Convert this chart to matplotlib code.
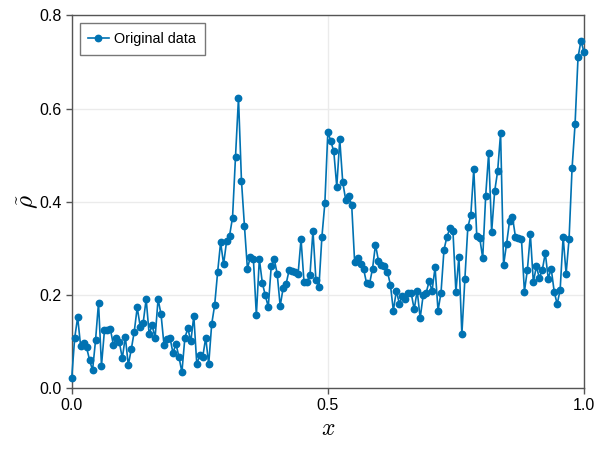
import numpy as np
import matplotlib
matplotlib.use("Agg")
import matplotlib.pyplot as plt

# values, evenly spaced on [0, 1]
rho = [
    0.021, 0.107, 0.152, 0.090, 0.096, 0.087, 0.060, 0.038, 0.102, 0.183,
    0.048, 0.124, 0.124, 0.126, 0.092, 0.107, 0.098, 0.064, 0.110, 0.049,
    0.083, 0.121, 0.173, 0.132, 0.140, 0.191, 0.116, 0.135, 0.108, 0.191,
    0.158, 0.092, 0.106, 0.108, 0.075, 0.095, 0.067, 0.034, 0.108, 0.128,
    0.100, 0.155, 0.051, 0.070, 0.067, 0.108, 0.051, 0.137, 0.178, 0.249,
    0.313, 0.266, 0.315, 0.327, 0.366, 0.497, 0.623, 0.445, 0.348, 0.256,
    0.282, 0.277, 0.156, 0.277, 0.226, 0.199, 0.174, 0.262, 0.277, 0.245,
    0.176, 0.215, 0.224, 0.253, 0.252, 0.249, 0.244, 0.320, 0.227, 0.228,
    0.242, 0.338, 0.232, 0.216, 0.324, 0.397, 0.550, 0.530, 0.508, 0.432,
    0.534, 0.442, 0.404, 0.412, 0.394, 0.270, 0.280, 0.266, 0.256, 0.225,
    0.224, 0.256, 0.308, 0.273, 0.264, 0.262, 0.250, 0.222, 0.166, 0.209,
    0.181, 0.198, 0.191, 0.205, 0.203, 0.169, 0.209, 0.150, 0.199, 0.204,
    0.229, 0.209, 0.259, 0.166, 0.205, 0.297, 0.325, 0.343, 0.338, 0.206,
    0.282, 0.115, 0.233, 0.345, 0.371, 0.470, 0.327, 0.322, 0.279, 0.413,
    0.505, 0.335, 0.422, 0.465, 0.547, 0.264, 0.309, 0.358, 0.367, 0.324,
    0.322, 0.321, 0.207, 0.254, 0.330, 0.227, 0.261, 0.237, 0.253, 0.290,
    0.235, 0.256, 0.207, 0.180, 0.211, 0.325, 0.245, 0.321, 0.472, 0.566,
    0.710, 0.746, 0.721,
]
x = np.linspace(0, 1, len(rho))

x_ticks = [0.0, 0.5, 1.0]
y_ticks = [0.0, 0.2, 0.4, 0.6, 0.8]

plt.rcParams['font.family'] = ['Liberation Sans', 'DejaVu Sans']
plt.rcParams['mathtext.fontset'] = 'cm'

fig = plt.figure(figsize=(6, 4.5), dpi=100)
ax = fig.add_axes([0.1195, 0.1378, 0.8538, 0.8278])

ax.plot(x, rho, '-o', color='#0072B2', linewidth=1.2, markersize=4.6,
        label='Original data', zorder=3, clip_on=False)

ax.set_xlim(0, 1)
ax.set_ylim(0, 0.8)
ax.set_xticks(x_ticks)
ax.set_yticks(y_ticks)
ax.set_xticklabels(['0.0', '0.5', '1.0'])
ax.set_yticklabels(['0.0', '0.2', '0.4', '0.6', '0.8'])
ax.grid(True, color='#ebebeb', linewidth=1.0, zorder=0)
ax.set_axisbelow(True)

for s in ax.spines.values():
    s.set_color('#555555')
    s.set_linewidth(1.0)
ax.tick_params(direction='out', length=4, width=1.0, color='#555555',
               labelsize=11.5, labelcolor='black', pad=3)

ax.set_xlabel(r'$x$', fontsize=17, labelpad=4)
ax.set_ylabel(r'$\tilde{\rho}$', fontsize=18, labelpad=-1)

leg = ax.legend(loc='upper left', fontsize=10.4, frameon=True, fancybox=False,
                borderpad=0.6, handlelength=1.4, handletextpad=0.4,
                borderaxespad=0.55)
leg.get_frame().set_edgecolor('#555555')
leg.get_frame().set_linewidth(1.0)

fig.savefig('out.png', dpi=100)
